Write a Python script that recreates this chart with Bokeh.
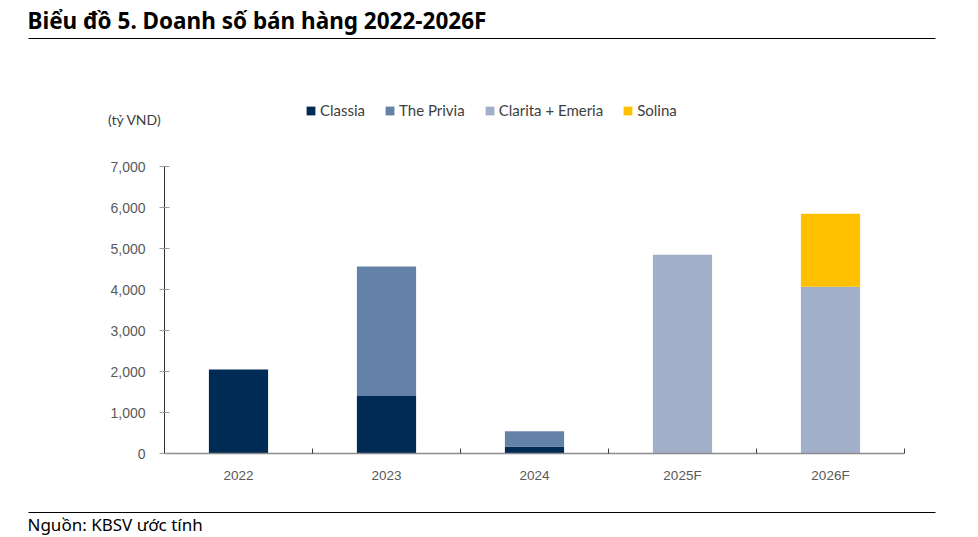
from bokeh.plotting import figure
from bokeh.models import (Range1d, FixedTicker, SingleIntervalTicker, NumeralTickFormatter,
                          Legend, LegendItem, Label, BoxAnnotation)
from bokeh.embed import file_html
from bokeh.resources import INLINE

# ---- data ----
categories = ["2022", "2023", "2024", "2025F", "2026F"]
classia = [2050, 1400, 170, 0, 0]
privia = [0, 3160, 370, 0, 0]
clarita = [0, 0, 0, 4850, 4070]
solina = [0, 0, 0, 0, 1780]
series_names = ["Classia", "The Privia", "Clarita + Emeria", "Solina"]
colors = ["#002B55", "#6482A7", "#A1B0C8", "#FFC000"]
y_ticks_step = 1000
y_max = 7000

title_text = "Biểu đồ 5. Doanh số bán hàng 2022-2026F"
unit_text = "(tỷ VND)"
source_text = "Nguồn: KBSV ước tính"

# ---- layout (pixels on the canvas) ----
W, H = 970, 537
AX_L, AX_R = 164, 904      # x-axis extent
AX_B, AX_T = 453, 166      # y of value 0 and of y_max
n = len(categories)
px_per_x = (AX_R - AX_L) / n
px_per_y = (AX_B - AX_T) / y_max

x_range = Range1d(-AX_L / px_per_x, (W - AX_L) / px_per_x)
y_range = Range1d(-(H - AX_B) / px_per_y, AX_B / px_per_y)

p = figure(width=W, height=H, output_backend="svg", toolbar_location=None,
           x_range=x_range, y_range=y_range,
           min_border_left=0, min_border_right=0, min_border_top=0, min_border_bottom=0)
p.outline_line_color = None
p.grid.grid_line_color = None
p.background_fill_color = "white"
p.border_fill_color = "white"


def sy(page_y):
    return H - page_y


xs = [i + 0.5 for i in range(n)]
data = dict(x=xs, classia=classia, privia=privia, clarita=clarita, solina=solina)
keys = ["classia", "privia", "clarita", "solina"]
rs = p.vbar_stack(keys, x="x", width=0.4, color=colors, line_color=None, source=data)

# axes
xa = p.xaxis[0]
xa.fixed_location = 0
xa.bounds = (0, n)
xa.ticker = FixedTicker(ticks=xs, minor_ticks=list(range(0, n + 1)))
xa.major_label_overrides = {x: c for x, c in zip(xs, categories)}
xa.major_tick_in = 0
xa.major_tick_out = 0
xa.minor_tick_in = 5
xa.minor_tick_out = 0
xa.minor_tick_line_color = "#404040"
xa.axis_line_color = "#8c8c8c"
xa.axis_line_width = 1.5
xa.major_label_standoff = 14
xa.major_label_text_font = "Liberation Sans"
xa.major_label_text_font_size = "13.5px"
xa.major_label_text_color = "#595959"

ya = p.yaxis[0]
ya.fixed_location = 0
ya.bounds = (0, y_max)
ya.ticker = SingleIntervalTicker(interval=y_ticks_step)
ya.formatter = NumeralTickFormatter(format="0,0")
ya.minor_tick_line_color = None
ya.major_tick_in = 5
ya.major_tick_out = 5
ya.major_tick_line_color = "#9a9a9a"
ya.axis_line_color = "#303030"
ya.major_label_standoff = 14
ya.major_label_text_font = "Liberation Sans"
ya.major_label_text_font_size = "14px"
ya.major_label_text_color = "#595959"

# legend
legend = Legend(items=[LegendItem(label=nm, renderers=[r]) for nm, r in zip(series_names, rs)],
                orientation="horizontal", location=(305, sy(119)),
                glyph_width=11, glyph_height=11, label_standoff=4, spacing=19,
                label_text_font="Lato", label_text_font_size="15px", label_text_color="#404040",
                label_height=12, padding=0, margin=0, border_line_color=None,
                background_fill_alpha=0)
p.add_layout(legend, "center")

# texts
p.add_layout(Label(x=27, y=sy(20), x_units="screen", y_units="screen", text=title_text,
                   text_font="Noto Sans", text_font_style="bold", text_font_size="22.5px",
                   text_color="#000000", text_baseline="middle"))
p.add_layout(Label(x=161, y=sy(119), x_units="screen", y_units="screen", text=unit_text,
                   text_font="Lato", text_font_size="14px", text_color="#404040",
                   text_align="right", text_baseline="middle"))
p.add_layout(Label(x=27, y=sy(524), x_units="screen", y_units="screen", text=source_text,
                   text_font="Noto Sans", text_font_size="17px", text_color="#000000",
                   text_baseline="middle"))
for ly in (38, 512):
    p.add_layout(BoxAnnotation(left=28, right=935, bottom=sy(ly) - 0.5, top=sy(ly) + 0.5,
                               left_units="screen", right_units="screen",
                               bottom_units="screen", top_units="screen",
                               fill_color="black", fill_alpha=1, line_color=None))

open("out.html", "w").write(file_html(p, INLINE))
